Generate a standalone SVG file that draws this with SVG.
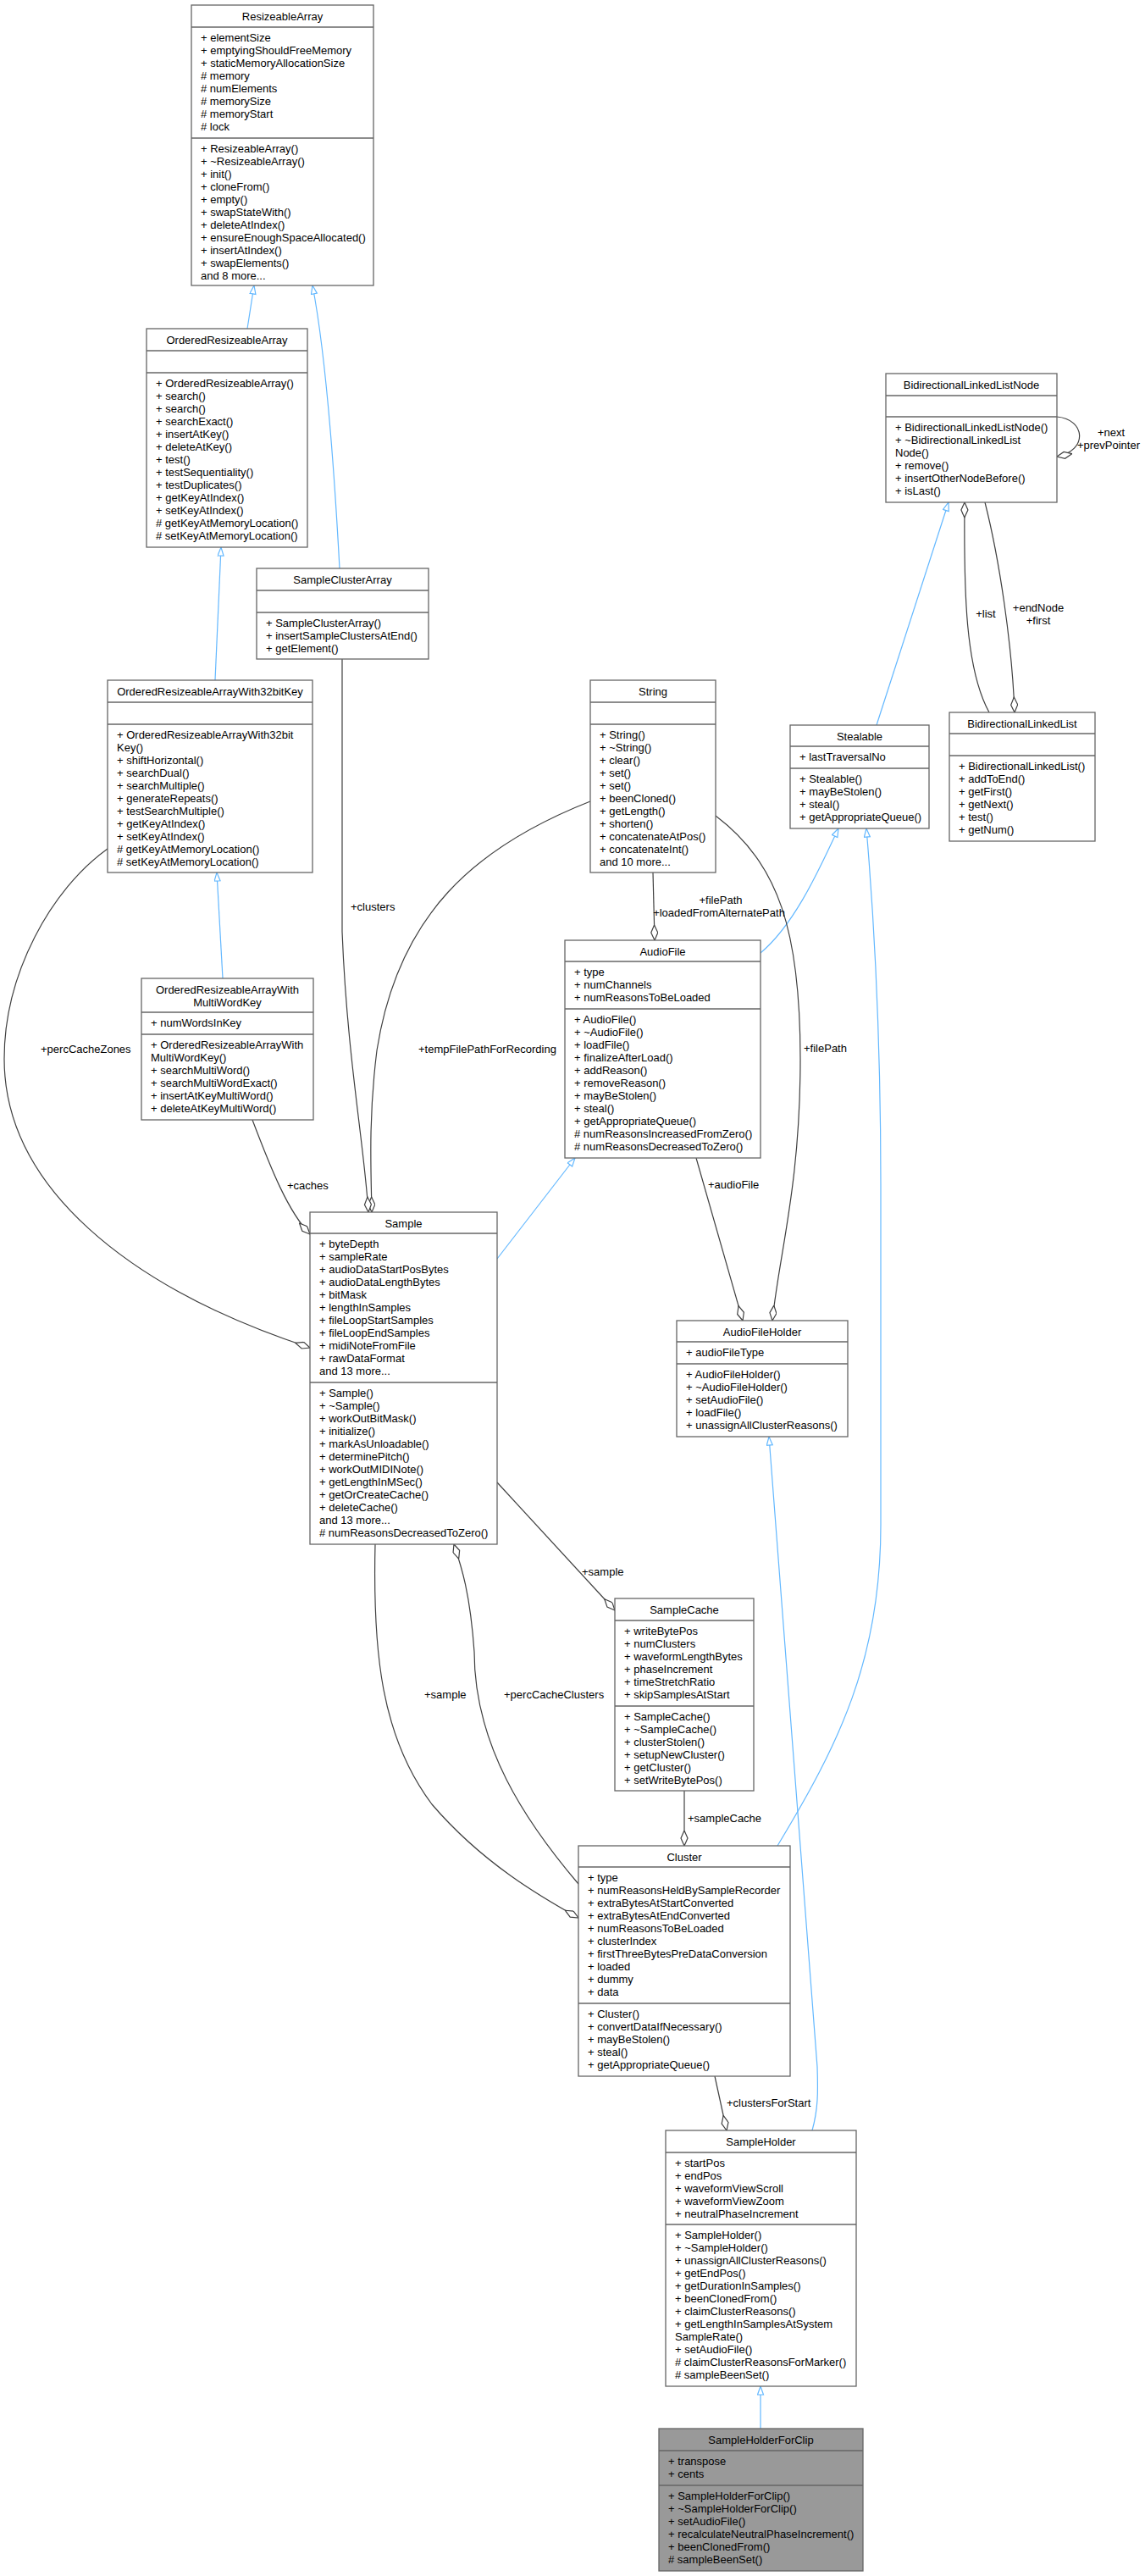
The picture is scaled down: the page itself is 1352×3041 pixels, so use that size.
<svg xmlns="http://www.w3.org/2000/svg" width="1352" height="3041" viewBox="0 0 1352 3041">
<style>
text{font-family:"Liberation Sans",Arial,sans-serif;font-size:13px;fill:#000}
.t{text-anchor:middle}
.b{fill:#fff;stroke:#666;stroke-width:1.3}
.h{fill:#999;stroke:#666;stroke-width:1.3}
.d{stroke:#666;stroke-width:1.3}
.inh{fill:none;stroke:#63b8ff;stroke-width:1.2;marker-end:url(#tri)}
.agg{fill:none;stroke:#404040;stroke-width:1.2;marker-end:url(#dia)}
</style>
<defs>
<marker id="tri" markerUnits="userSpaceOnUse" markerWidth="12" markerHeight="10" refX="11" refY="4" orient="auto"><path d="M1,0.5 L11,4 L1,7.5 z" fill="#fff" stroke="#63b8ff" stroke-width="1.2"/></marker>
<marker id="dia" markerUnits="userSpaceOnUse" markerWidth="20" markerHeight="10" refX="18.5" refY="4.5" orient="auto"><path d="M0.5,4.5 L9.5,0.5 L18.5,4.5 L9.5,8.5 z" fill="#fff" stroke="#404040" stroke-width="1.2"/></marker>
</defs>
<rect width="1352" height="3041" fill="#fff"/>
<g id="edges">
<path class="inh" d="M292,388 L300,337"/>
<path class="inh" d="M401,671 C395,560 385,420 369,337"/>
<path class="inh" d="M254,803 L261,646"/>
<path class="inh" d="M263,1155 L256,1030"/>
<path class="inh" d="M1035,856 L1120,593"/>
<path class="inh" d="M898,1125 C940,1090 970,1020 990,978"/>
<path class="inh" d="M918,2179 C990,2060 1040,1960 1040,1800 L1040,1400 C1040,1200 1030,1060 1023,978"/>
<path class="inh" d="M587,1486 L679,1367"/>
<path class="inh" d="M959,2515 C966,2490 966,2470 965,2440 L908,1696"/>
<path class="inh" d="M898,2867 L898,2817"/>
<path class="agg" d="M771,1030 L773,1110"/>
<path class="agg" d="M697,946 C560,1000 470,1080 445,1240 C435,1320 438,1380 439,1431"/>
<path class="agg" d="M404,778 L404,1100 C410,1250 430,1350 435,1431"/>
<path class="agg" d="M298,1322 C320,1380 340,1430 366,1457"/>
<path class="agg" d="M127,1002 C60,1050 5,1150 5,1250 C5,1400 150,1520 366,1591"/>
<path class="agg" d="M822,1367 L877,1559"/>
<path class="agg" d="M845,963 C920,1020 945,1100 945,1250 C945,1400 920,1480 912,1559"/>
<path class="agg" d="M587,1750 L726,1901"/>
<path class="agg" d="M443,1823 C440,1950 450,2050 510,2130 C570,2200 640,2240 683,2264"/>
<path class="agg" d="M683,2224 C620,2150 560,2060 560,1950 C555,1880 545,1850 536,1823"/>
<path class="agg" d="M808,2114 L808,2179"/>
<path class="agg" d="M844,2451 L858,2515"/>
<path class="agg" d="M1168,841 C1140,790 1138,700 1139,593"/>
<path class="agg" d="M1163,593 C1180,660 1195,760 1198,841"/>
<path class="agg" d="M1248,492 C1282,495 1285,532 1248,539"/>
<text x="414" y="1075">+clusters</text>
<text x="494" y="1243">+tempFilePathForRecording</text>
<text x="48" y="1243">+percCacheZones</text>
<text x="339" y="1404">+caches</text>
<text class="t" x="851" y="1067">+filePath</text>
<text class="t" x="849" y="1082">+loadedFromAlternatePath</text>
<text x="949" y="1242">+filePath</text>
<text x="836" y="1403">+audioFile</text>
<text x="687" y="1860">+sample</text>
<text x="501" y="2005">+sample</text>
<text x="595" y="2005">+percCacheClusters</text>
<text x="812" y="2151">+sampleCache</text>
<text x="858" y="2487">+clustersForStart</text>
<text class="t" x="1164" y="729">+list</text>
<text class="t" x="1226" y="722">+endNode</text>
<text class="t" x="1226" y="737">+first</text>
<text class="t" x="1312" y="515">+next</text>
<text class="t" x="1309" y="530">+prevPointer</text>
</g>
<g id="ResizeableArray">
<rect class="b" x="226" y="6" width="215" height="331"/>
<line class="d" x1="226" y1="32" x2="441" y2="32"/><line class="d" x1="226" y1="163" x2="441" y2="163"/>
<text class="t" x="333.5" y="24">ResizeableArray</text>
<text x="237" y="49">+ elementSize</text><text x="237" y="64">+ emptyingShouldFreeMemory</text><text x="237" y="79">+ staticMemoryAllocationSize</text><text x="237" y="94"># memory</text><text x="237" y="109"># numElements</text><text x="237" y="124"># memorySize</text><text x="237" y="139"># memoryStart</text><text x="237" y="154"># lock</text>
<text x="237" y="180">+ ResizeableArray()</text><text x="237" y="195">+ ~ResizeableArray()</text><text x="237" y="210">+ init()</text><text x="237" y="225">+ cloneFrom()</text><text x="237" y="240">+ empty()</text><text x="237" y="255">+ swapStateWith()</text><text x="237" y="270">+ deleteAtIndex()</text><text x="237" y="285">+ ensureEnoughSpaceAllocated()</text><text x="237" y="300">+ insertAtIndex()</text><text x="237" y="315">+ swapElements()</text><text x="237" y="330">and 8 more...</text>
</g>
<g id="OrderedResizeableArray">
<rect class="b" x="173" y="388" width="190" height="258"/>
<line class="d" x1="173" y1="414" x2="363" y2="414"/><line class="d" x1="173" y1="440" x2="363" y2="440"/>
<text class="t" x="268" y="406">OrderedResizeableArray</text>
<text x="184" y="457">+ OrderedResizeableArray()</text><text x="184" y="472">+ search()</text><text x="184" y="487">+ search()</text><text x="184" y="502">+ searchExact()</text><text x="184" y="517">+ insertAtKey()</text><text x="184" y="532">+ deleteAtKey()</text><text x="184" y="547">+ test()</text><text x="184" y="562">+ testSequentiality()</text><text x="184" y="577">+ testDuplicates()</text><text x="184" y="592">+ getKeyAtIndex()</text><text x="184" y="607">+ setKeyAtIndex()</text><text x="184" y="622"># getKeyAtMemoryLocation()</text><text x="184" y="637"># setKeyAtMemoryLocation()</text>
</g>
<g id="SampleClusterArray">
<rect class="b" x="303" y="671" width="203" height="107"/>
<line class="d" x1="303" y1="697" x2="506" y2="697"/><line class="d" x1="303" y1="723" x2="506" y2="723"/>
<text class="t" x="404.5" y="689">SampleClusterArray</text>
<text x="314" y="740">+ SampleClusterArray()</text><text x="314" y="755">+ insertSampleClustersAtEnd()</text><text x="314" y="770">+ getElement()</text>
</g>
<g id="OrderedResizeableArrayWith32bitKey">
<rect class="b" x="127" y="803" width="242" height="227"/>
<line class="d" x1="127" y1="829" x2="369" y2="829"/><line class="d" x1="127" y1="855" x2="369" y2="855"/>
<text class="t" x="248" y="821">OrderedResizeableArrayWith32bitKey</text>
<text x="138" y="872">+ OrderedResizeableArrayWith32bit</text><text x="138" y="887">Key()</text><text x="138" y="902">+ shiftHorizontal()</text><text x="138" y="917">+ searchDual()</text><text x="138" y="932">+ searchMultiple()</text><text x="138" y="947">+ generateRepeats()</text><text x="138" y="962">+ testSearchMultiple()</text><text x="138" y="977">+ getKeyAtIndex()</text><text x="138" y="992">+ setKeyAtIndex()</text><text x="138" y="1007"># getKeyAtMemoryLocation()</text><text x="138" y="1022"># setKeyAtMemoryLocation()</text>
</g>
<g id="OrderedResizeableArrayWithMultiWordKey">
<rect class="b" x="167" y="1155" width="203" height="167"/>
<line class="d" x1="167" y1="1195" x2="370" y2="1195"/><line class="d" x1="167" y1="1221" x2="370" y2="1221"/>
<text class="t" x="268.5" y="1173">OrderedResizeableArrayWith</text><text class="t" x="268.5" y="1188">MultiWordKey</text>
<text x="178" y="1212">+ numWordsInKey</text>
<text x="178" y="1238">+ OrderedResizeableArrayWith</text><text x="178" y="1253">MultiWordKey()</text><text x="178" y="1268">+ searchMultiWord()</text><text x="178" y="1283">+ searchMultiWordExact()</text><text x="178" y="1298">+ insertAtKeyMultiWord()</text><text x="178" y="1313">+ deleteAtKeyMultiWord()</text>
</g>
<g id="String">
<rect class="b" x="697" y="803" width="148" height="227"/>
<line class="d" x1="697" y1="829" x2="845" y2="829"/><line class="d" x1="697" y1="855" x2="845" y2="855"/>
<text class="t" x="771" y="821">String</text>
<text x="708" y="872">+ String()</text><text x="708" y="887">+ ~String()</text><text x="708" y="902">+ clear()</text><text x="708" y="917">+ set()</text><text x="708" y="932">+ set()</text><text x="708" y="947">+ beenCloned()</text><text x="708" y="962">+ getLength()</text><text x="708" y="977">+ shorten()</text><text x="708" y="992">+ concatenateAtPos()</text><text x="708" y="1007">+ concatenateInt()</text><text x="708" y="1022">and 10 more...</text>
</g>
<g id="BidirectionalLinkedListNode">
<rect class="b" x="1046" y="441" width="202" height="152"/>
<line class="d" x1="1046" y1="467" x2="1248" y2="467"/><line class="d" x1="1046" y1="492" x2="1248" y2="492"/>
<text class="t" x="1147" y="459">BidirectionalLinkedListNode</text>
<text x="1057" y="509">+ BidirectionalLinkedListNode()</text><text x="1057" y="524">+ ~BidirectionalLinkedList</text><text x="1057" y="539">Node()</text><text x="1057" y="554">+ remove()</text><text x="1057" y="569">+ insertOtherNodeBefore()</text><text x="1057" y="584">+ isLast()</text>
</g>
<g id="BidirectionalLinkedList">
<rect class="b" x="1121" y="841" width="172" height="152"/>
<line class="d" x1="1121" y1="866" x2="1293" y2="866"/><line class="d" x1="1121" y1="892" x2="1293" y2="892"/>
<text class="t" x="1207" y="859">BidirectionalLinkedList</text>
<text x="1132" y="909">+ BidirectionalLinkedList()</text><text x="1132" y="924">+ addToEnd()</text><text x="1132" y="939">+ getFirst()</text><text x="1132" y="954">+ getNext()</text><text x="1132" y="969">+ test()</text><text x="1132" y="984">+ getNum()</text>
</g>
<g id="Stealable">
<rect class="b" x="933" y="856" width="164" height="122"/>
<line class="d" x1="933" y1="881" x2="1097" y2="881"/><line class="d" x1="933" y1="907" x2="1097" y2="907"/>
<text class="t" x="1015" y="874">Stealable</text>
<text x="944" y="898">+ lastTraversalNo</text>
<text x="944" y="924">+ Stealable()</text><text x="944" y="939">+ mayBeStolen()</text><text x="944" y="954">+ steal()</text><text x="944" y="969">+ getAppropriateQueue()</text>
</g>
<g id="AudioFile">
<rect class="b" x="667" y="1110" width="231" height="257"/>
<line class="d" x1="667" y1="1135" x2="898" y2="1135"/><line class="d" x1="667" y1="1191" x2="898" y2="1191"/>
<text class="t" x="782.5" y="1128">AudioFile</text>
<text x="678" y="1152">+ type</text><text x="678" y="1167">+ numChannels</text><text x="678" y="1182">+ numReasonsToBeLoaded</text>
<text x="678" y="1208">+ AudioFile()</text><text x="678" y="1223">+ ~AudioFile()</text><text x="678" y="1238">+ loadFile()</text><text x="678" y="1253">+ finalizeAfterLoad()</text><text x="678" y="1268">+ addReason()</text><text x="678" y="1283">+ removeReason()</text><text x="678" y="1298">+ mayBeStolen()</text><text x="678" y="1313">+ steal()</text><text x="678" y="1328">+ getAppropriateQueue()</text><text x="678" y="1343"># numReasonsIncreasedFromZero()</text><text x="678" y="1358"># numReasonsDecreasedToZero()</text>
</g>
<g id="Sample">
<rect class="b" x="366" y="1431" width="221" height="392"/>
<line class="d" x1="366" y1="1456" x2="587" y2="1456"/><line class="d" x1="366" y1="1632" x2="587" y2="1632"/>
<text class="t" x="476.5" y="1449">Sample</text>
<text x="377" y="1473">+ byteDepth</text><text x="377" y="1488">+ sampleRate</text><text x="377" y="1503">+ audioDataStartPosBytes</text><text x="377" y="1518">+ audioDataLengthBytes</text><text x="377" y="1533">+ bitMask</text><text x="377" y="1548">+ lengthInSamples</text><text x="377" y="1563">+ fileLoopStartSamples</text><text x="377" y="1578">+ fileLoopEndSamples</text><text x="377" y="1593">+ midiNoteFromFile</text><text x="377" y="1608">+ rawDataFormat</text><text x="377" y="1623">and 13 more...</text>
<text x="377" y="1649">+ Sample()</text><text x="377" y="1664">+ ~Sample()</text><text x="377" y="1679">+ workOutBitMask()</text><text x="377" y="1694">+ initialize()</text><text x="377" y="1709">+ markAsUnloadable()</text><text x="377" y="1724">+ determinePitch()</text><text x="377" y="1739">+ workOutMIDINote()</text><text x="377" y="1754">+ getLengthInMSec()</text><text x="377" y="1769">+ getOrCreateCache()</text><text x="377" y="1784">+ deleteCache()</text><text x="377" y="1799">and 13 more...</text><text x="377" y="1814"># numReasonsDecreasedToZero()</text>
</g>
<g id="AudioFileHolder">
<rect class="b" x="799" y="1559" width="202" height="137"/>
<line class="d" x1="799" y1="1584" x2="1001" y2="1584"/><line class="d" x1="799" y1="1610" x2="1001" y2="1610"/>
<text class="t" x="900" y="1577">AudioFileHolder</text>
<text x="810" y="1601">+ audioFileType</text>
<text x="810" y="1627">+ AudioFileHolder()</text><text x="810" y="1642">+ ~AudioFileHolder()</text><text x="810" y="1657">+ setAudioFile()</text><text x="810" y="1672">+ loadFile()</text><text x="810" y="1687">+ unassignAllClusterReasons()</text>
</g>
<g id="SampleCache">
<rect class="b" x="726" y="1887" width="164" height="227"/>
<line class="d" x1="726" y1="1913" x2="890" y2="1913"/><line class="d" x1="726" y1="2014" x2="890" y2="2014"/>
<text class="t" x="808" y="1905">SampleCache</text>
<text x="737" y="1930">+ writeBytePos</text><text x="737" y="1945">+ numClusters</text><text x="737" y="1960">+ waveformLengthBytes</text><text x="737" y="1975">+ phaseIncrement</text><text x="737" y="1990">+ timeStretchRatio</text><text x="737" y="2005">+ skipSamplesAtStart</text>
<text x="737" y="2031">+ SampleCache()</text><text x="737" y="2046">+ ~SampleCache()</text><text x="737" y="2061">+ clusterStolen()</text><text x="737" y="2076">+ setupNewCluster()</text><text x="737" y="2091">+ getCluster()</text><text x="737" y="2106">+ setWriteBytePos()</text>
</g>
<g id="Cluster">
<rect class="b" x="683" y="2179" width="250" height="272"/>
<line class="d" x1="683" y1="2204" x2="933" y2="2204"/><line class="d" x1="683" y1="2365" x2="933" y2="2365"/>
<text class="t" x="808" y="2197">Cluster</text>
<text x="694" y="2221">+ type</text><text x="694" y="2236">+ numReasonsHeldBySampleRecorder</text><text x="694" y="2251">+ extraBytesAtStartConverted</text><text x="694" y="2266">+ extraBytesAtEndConverted</text><text x="694" y="2281">+ numReasonsToBeLoaded</text><text x="694" y="2296">+ clusterIndex</text><text x="694" y="2311">+ firstThreeBytesPreDataConversion</text><text x="694" y="2326">+ loaded</text><text x="694" y="2341">+ dummy</text><text x="694" y="2356">+ data</text>
<text x="694" y="2382">+ Cluster()</text><text x="694" y="2397">+ convertDataIfNecessary()</text><text x="694" y="2412">+ mayBeStolen()</text><text x="694" y="2427">+ steal()</text><text x="694" y="2442">+ getAppropriateQueue()</text>
</g>
<g id="SampleHolder">
<rect class="b" x="786" y="2515" width="225" height="302"/>
<line class="d" x1="786" y1="2541" x2="1011" y2="2541"/><line class="d" x1="786" y1="2626" x2="1011" y2="2626"/>
<text class="t" x="898.5" y="2533">SampleHolder</text>
<text x="797" y="2558">+ startPos</text><text x="797" y="2573">+ endPos</text><text x="797" y="2588">+ waveformViewScroll</text><text x="797" y="2603">+ waveformViewZoom</text><text x="797" y="2618">+ neutralPhaseIncrement</text>
<text x="797" y="2643">+ SampleHolder()</text><text x="797" y="2658">+ ~SampleHolder()</text><text x="797" y="2673">+ unassignAllClusterReasons()</text><text x="797" y="2688">+ getEndPos()</text><text x="797" y="2703">+ getDurationInSamples()</text><text x="797" y="2718">+ beenClonedFrom()</text><text x="797" y="2733">+ claimClusterReasons()</text><text x="797" y="2748">+ getLengthInSamplesAtSystem</text><text x="797" y="2763">SampleRate()</text><text x="797" y="2778">+ setAudioFile()</text><text x="797" y="2793"># claimClusterReasonsForMarker()</text><text x="797" y="2808"># sampleBeenSet()</text>
</g>
<g id="SampleHolderForClip">
<rect class="h" x="778" y="2867" width="241" height="168"/>
<line class="d" x1="778" y1="2893" x2="1019" y2="2893"/><line class="d" x1="778" y1="2934" x2="1019" y2="2934"/>
<text class="t" x="898.5" y="2885">SampleHolderForClip</text>
<text x="789" y="2910">+ transpose</text><text x="789" y="2925">+ cents</text>
<text x="789" y="2951">+ SampleHolderForClip()</text><text x="789" y="2966">+ ~SampleHolderForClip()</text><text x="789" y="2981">+ setAudioFile()</text><text x="789" y="2996">+ recalculateNeutralPhaseIncrement()</text><text x="789" y="3011">+ beenClonedFrom()</text><text x="789" y="3026"># sampleBeenSet()</text>
</g>
</svg>
